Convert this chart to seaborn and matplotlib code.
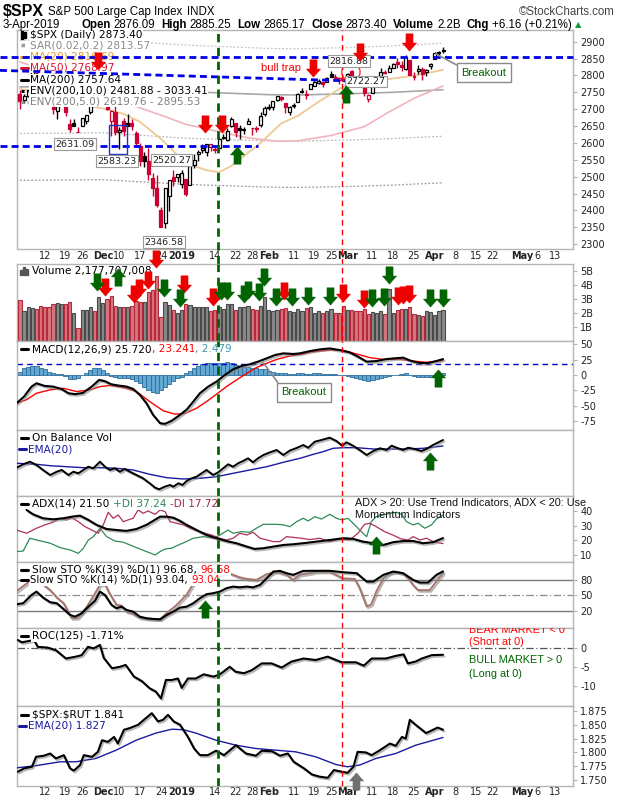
import numpy as np
import pandas as pd
import matplotlib
matplotlib.use("Agg")
import matplotlib.pyplot as plt
import seaborn as sns
from matplotlib.path import Path
from matplotlib.patches import Rectangle, Ellipse
import matplotlib.patheffects as pe

sns.set_theme(style="white")
plt.rcParams["font.family"] = ["DejaVu Sans"]

# ------------------------------------------------------------------ data
start_date = "2018-11-02"
end_date = "2019-05-20"
holidays = ["2018-11-22", "2018-12-05", "2018-12-25", "2019-01-01",
            "2019-01-21", "2019-02-18", "2019-04-19"]
prev_close_start = 2740.37

opens = [2745.45, 2726.37, 2738.40, 2774.13, 2806.38, 2794.10, 2773.93, 2730.05, 2737.90, 2693.52,
         2718.54, 2730.74, 2654.60, 2657.74, 2633.36, 2649.97, 2663.75, 2691.45, 2736.97, 2737.76,
         2790.50, 2782.43, 2663.51, 2691.26, 2630.86, 2664.44, 2658.23, 2658.70, 2629.68, 2590.75,
         2559.90, 2547.05, 2496.77, 2465.38, 2400.56, 2363.12, 2442.50, 2498.77, 2498.94, 2476.96,
         2491.92, 2474.33, 2535.61, 2568.11, 2580.00, 2573.51, 2588.11, 2580.31, 2585.10, 2614.75,
         2609.28, 2651.27, 2657.88, 2643.48, 2638.84, 2657.44, 2644.97, 2644.89, 2653.62, 2685.49,
         2702.32, 2706.49, 2728.34, 2735.05, 2717.53, 2692.36, 2712.40, 2722.61, 2750.30, 2743.50,
         2760.24, 2770.00, 2779.05, 2780.67, 2780.67, 2804.35, 2792.36, 2787.50, 2788.11, 2798.22,
         2814.37, 2794.41, 2790.27, 2766.53, 2730.79, 2747.61, 2787.34, 2799.78, 2810.38, 2810.79,
         2822.61, 2840.76, 2831.34, 2819.72, 2844.52, 2796.01, 2812.66, 2819.72, 2809.40, 2828.27,
         2848.63, 2868.24, 2876.09]
highs = [2756.55, 2744.27, 2756.82, 2815.15, 2814.75, 2794.10, 2775.99, 2754.60, 2746.80, 2735.38,
         2746.75, 2733.16, 2669.44, 2670.73, 2647.55, 2674.35, 2682.53, 2744.00, 2753.75, 2760.88,
         2800.18, 2785.93, 2697.77, 2708.54, 2647.51, 2674.35, 2685.44, 2670.19, 2635.07, 2601.13,
         2573.99, 2585.29, 2509.63, 2504.41, 2410.34, 2467.76, 2489.10, 2520.27, 2509.24, 2519.49,
         2493.14, 2538.07, 2566.16, 2579.82, 2595.32, 2597.82, 2596.27, 2589.32, 2613.08, 2625.76,
         2645.06, 2675.47, 2657.88, 2653.19, 2647.20, 2672.38, 2644.97, 2650.93, 2690.44, 2708.95,
         2716.66, 2724.99, 2738.98, 2738.08, 2719.32, 2708.07, 2718.05, 2748.19, 2761.85, 2757.90,
         2775.66, 2787.33, 2789.88, 2781.58, 2794.20, 2813.49, 2803.12, 2795.76, 2793.73, 2808.02,
         2816.88, 2796.44, 2790.27, 2767.25, 2744.13, 2784.00, 2798.32, 2821.24, 2815.00, 2830.73,
         2835.41, 2852.42, 2843.54, 2860.31, 2846.16, 2809.79, 2829.87, 2825.56, 2819.71, 2836.03,
         2869.40, 2872.90, 2885.25]
lows = [2700.44, 2717.94, 2737.08, 2774.13, 2794.99, 2764.24, 2722.00, 2714.98, 2685.75, 2670.75,
        2712.16, 2681.09, 2631.52, 2649.82, 2631.09, 2649.97, 2655.89, 2684.38, 2722.94, 2732.76,
        2773.38, 2697.18, 2621.53, 2623.14, 2583.23, 2621.30, 2650.26, 2637.27, 2593.84, 2530.54,
        2528.71, 2488.96, 2441.53, 2408.55, 2351.10, 2346.58, 2397.94, 2472.89, 2482.82, 2467.47,
        2443.96, 2474.33, 2524.56, 2547.56, 2568.89, 2562.02, 2577.40, 2570.41, 2585.10, 2612.68,
        2606.36, 2647.58, 2617.27, 2612.86, 2627.01, 2657.33, 2624.06, 2631.05, 2648.34, 2678.65,
        2696.88, 2698.75, 2724.03, 2724.15, 2687.26, 2681.83, 2703.79, 2722.61, 2748.63, 2731.23,
        2760.24, 2767.29, 2774.06, 2764.55, 2779.11, 2794.99, 2789.47, 2775.13, 2782.51, 2787.38,
        2767.66, 2782.97, 2768.69, 2739.09, 2722.27, 2747.61, 2786.73, 2799.78, 2803.46, 2810.79,
        2821.99, 2823.27, 2812.43, 2817.38, 2800.47, 2785.02, 2803.99, 2787.72, 2798.77, 2819.23,
        2848.63, 2858.75, 2865.17]
closes = [2723.06, 2738.31, 2755.45, 2813.89, 2806.83, 2781.01, 2726.22, 2722.18, 2701.58, 2730.20,
          2736.27, 2690.73, 2641.89, 2649.93, 2632.56, 2673.45, 2682.17, 2743.79, 2737.80, 2760.17,
          2790.37, 2700.06, 2695.95, 2633.08, 2637.72, 2636.78, 2651.07, 2650.54, 2599.95, 2545.94,
          2546.16, 2506.96, 2467.42, 2416.62, 2351.10, 2467.70, 2488.83, 2485.74, 2506.85, 2510.03,
          2447.89, 2531.94, 2549.69, 2574.41, 2584.96, 2596.64, 2596.26, 2582.61, 2610.30, 2616.10,
          2635.96, 2670.71, 2632.90, 2638.70, 2642.33, 2664.76, 2643.85, 2640.00, 2681.05, 2704.10,
          2706.53, 2724.87, 2737.70, 2731.61, 2706.05, 2707.88, 2709.80, 2744.73, 2753.03, 2745.73,
          2775.60, 2779.76, 2784.70, 2774.88, 2792.67, 2796.11, 2793.90, 2792.38, 2784.49, 2803.69,
          2792.81, 2789.65, 2771.45, 2748.93, 2743.07, 2783.30, 2791.52, 2810.92, 2808.48, 2822.48,
          2832.94, 2832.57, 2824.23, 2854.88, 2800.71, 2798.36, 2818.46, 2805.37, 2815.44, 2834.40,
          2867.19, 2867.24, 2873.40]
volume_b = [2.9, 2.1, 2.4, 2.35, 2.3, 2.5, 2.45, 2.4, 2.65, 2.7,
            2.65, 2.6, 2.8, 2.0, 0.95, 2.2, 2.2, 2.4, 2.1, 3.1,
            2.7, 3.0, 3.2, 2.5, 2.45, 2.4, 2.4, 2.5, 2.85, 2.75,
            2.8, 3.5, 3.65, 4.6, 1.7, 2.75, 2.55, 2.2, 2.0, 2.2,
            2.6, 2.55, 2.45, 2.45, 2.4, 2.4, 2.15, 2.2, 2.4, 2.25,
            2.6, 2.6, 2.2, 2.4, 2.45, 2.5, 2.3, 2.2, 2.5, 3.1,
            2.2, 2.1, 2.2, 2.3, 2.35, 2.1, 2.05, 2.25, 2.1, 2.35,
            2.45, 2.0, 2.1, 2.0, 2.1, 2.25, 2.0, 2.0, 2.5, 2.2,
            2.2, 2.15, 2.1, 2.3, 1.9, 2.05, 2.0, 2.1, 1.95, 3.7,
            2.0, 2.2, 2.25, 2.25, 2.4, 1.9, 1.85, 1.75, 2.1, 2.05,
            1.85, 2.1, 2.18]

# overlays on price (day index)
ma20_day = [0, 5, 10, 15, 20, 25, 29, 34, 40, 45, 48, 51, 58, 63, 67, 72, 78, 84, 90, 96, 102]
ma20_val = [2760, 2748, 2732, 2712, 2702, 2686, 2662, 2612, 2540, 2519, 2513, 2532, 2600, 2658,
            2680, 2722, 2767, 2781, 2791, 2801, 2816.69]
ma50_day = [0, 10, 20, 28, 35, 40, 47, 55, 62, 67, 75, 83, 89, 95, 102]
ma50_val = [2840, 2800, 2762, 2708, 2678, 2655, 2636, 2615, 2605, 2606, 2622, 2648, 2692, 2732, 2768.97]
ma200_day = [0, 20, 40, 60, 67, 80, 90, 102]
ma200_val = [2766, 2768, 2752, 2743, 2742, 2746, 2750, 2757.64]
env5_hi = [2904, 2906, 2890, 2880, 2879, 2883, 2888, 2895.53]
env5_lo = [2628, 2630, 2614, 2606, 2605, 2609, 2613, 2619.76]
env10_lo = [2489, 2491, 2477, 2469, 2468, 2471, 2475, 2481.88]

macd_day = [-0.8, 1, 2.8, 4, 6, 8, 10, 11.7, 13.3, 15.2, 17.3, 19.1, 20.5, 22, 23.7, 25.7, 27.3, 28.9,
            30.5, 32.1, 33.8, 35, 36.6, 38.6, 40.2, 41.8, 43.4, 45.4, 47.4, 49.4, 51.4, 53.4, 55.4,
            57.4, 59.5, 61.5, 63.5, 65.9, 67.5, 69.9, 72.3, 74.7, 77.1, 79.5, 81.5, 83.6, 86, 88.4,
            90.4, 92.4, 94.4, 96.4, 98.4, 100.4, 102]
macd_val = [-45.6, -35, -18.8, -13.4, -17.7, -18.8, -22.5, -29.5, -31, -29, -18.8, -8, -10, -15, -17,
            -18.8, -22.5, -32, -45.6, -64.5, -78, -79, -74, -64.5, -56, -43, -29.5, -18.8, -10.7, 0,
            9.2, 14.5, 17.3, 21.6, 27, 32.3, 35, 34, 35, 38.7, 41.4, 43, 40.3, 36.6, 29.7, 21.6, 22.6,
            25.8, 27, 28, 22.6, 19.4, 19.4, 22.6, 25.72]
signal_day = [-0.8, 1.6, 4, 7.3, 10.5, 13.7, 16.9, 19.3, 21.7, 24.9, 28.1, 31.3, 34.6, 37.4, 39.8,
              42.6, 45, 47.4, 49.8, 52.2, 54.7, 57, 59.5, 61.9, 65, 68.3, 69.9, 74.7, 78, 81.2,
              84.4, 87.6, 91.6, 94.8, 98, 102]
signal_val = [-45.6, -40, -29.5, -24, -21.5, -26.8, -24, -18.8, -17, -20.3, -26.8, -43, -58, -63.4,
              -62.3, -53.7, -43, -31, -18.8, -8, 2.7, 12, 18.9, 25.3, 30.6, 34, 37, 40.3, 39.7, 33.9,
              28, 25.3, 25.3, 22.6, 20.5, 23.24]
macd_hist = [5.4, 10.8, 13.4, 15, 15, 11.8, 9.1, 5.4, 2.7, 1, 1, -1, -6.5, -7, -4.3, 0, 3.8, 7.5,
             10.8, 11.8, 8, 2.7, -1, -3.8, -4.3, -4.3, -5.4, -6.5, -9.7, -13.4, -18.8, -24.2, -26.9,
             -29.6, -24.2, -18.8, -15, -9.7, -5.4, -2.7, 2.7, 6.5, 10.8, 15, 17.2, 18.8, 18.8, 18.8,
             18.8, 19.9, 20.4, 18.8, 16.1, 15, 12.9, 12.9, 11.8, 10.8, 9.7, 9.1, 7, 4.3, 2.7, 2.7,
             2.7, 2.2, 2.2, 2.7, 2.7, 2.2, 2.2, 2.7, 2.7, 2.2, 2, 1.6, 1, 0.5, -0.5, -1.5, -2.7, -4.3,
             -6.5, -8.6, -9.7, -8.6, -6.5, -4.3, -2.7, -1.6, -0.5, 0.5, 1.6, 2.7, 0.5, -1.6, -2.7,
             -3.2, -3.8, -2.7, -0.5, 1.6, 2.48]
macd_ref_level = 18.4

obv_day = [-0.8, 0.8, 2.4, 4, 5.6, 7.3, 8.9, 10.1, 11.7, 12.9, 14.1, 15.3, 16.5, 17.7, 19.3, 20.5,
           21.7, 22.9, 24.1, 25.3, 26.5, 28.1, 29.7, 31.3, 32.6, 33.6, 34.9, 36.2, 37, 38.2, 39.2,
           40.2, 41.4, 42.6, 43.8, 45, 46.6, 47.8, 49, 50.2, 51.4, 52.6, 53.8, 55, 56.2, 57.4,
           58.7, 60.3, 61.9, 63.5, 65.1, 66.7, 68.3, 69.5, 71.1, 72.7, 74.7, 76.3, 77.7, 78.7,
           80.3, 81.9, 83.6, 85.2, 86.8, 88.4, 89.6, 90.8, 92.4, 93.6, 95.2, 96.8, 98, 99.6, 102]
obv_val = [28.3, 31.7, 34.3, 31, 26, 21, 24.3, 26, 21, 24.3, 22.7, 26, 29.3, 27.7, 34.3, 29.3,
           26, 27.7, 24.3, 27, 24.3, 21, 17.7, 12.7, 8.3, 6.7, 9.3, 11, 9.3, 12.7, 11,
           15, 17.7, 19.3, 22.7, 26, 21, 23.7, 27.7, 31.7, 29.3, 32.7, 35, 37.7, 33.7, 37.7,
           41, 43.7, 46, 41, 45.5, 48, 51, 48.3, 54.3, 56, 58.3, 55, 50.3, 53.7,
           50.3, 46, 41, 45, 47.7, 46, 50.3, 48.3, 46, 48.3, 47, 45, 47, 51, 56]
obv_ema_day = [-0.8, 4, 7.3, 11.3, 15.3, 19.3, 23.3, 27.3, 31.3, 35.4, 39.4, 43.4, 47.4, 51.4, 55.4,
               59.5, 63.5, 67.5, 71, 73.1, 75.5, 77.9, 81.2, 85.2, 89.2, 93.2, 97.2, 102]
obv_ema_val = [32.7, 31.7, 30.3, 29.3, 28.3, 28.3, 27.7, 26, 21.7, 18.3, 17, 17.7, 19.3, 22.7, 26,
               29.3, 33.7, 37.7, 42, 44.3, 47.7, 48.3, 48.3, 47, 47, 47, 47.7, 50]

adx_day = [1.6, 3.2, 5.6, 8, 10.5, 12.5, 14.5, 16.5, 18.5, 20.9, 23.3, 25.7, 28.1, 30.5, 32.1, 33.8,
           35.4, 37, 38.6, 40.2, 42.6, 45, 47.4, 49.8, 52.2, 54.7, 56.6, 58.7, 61.1, 63.5, 65.9,
           68.3, 71.5, 74.7, 77.9, 80.3, 82.7, 85.2, 87.6, 90, 92.4, 94.8, 97.2, 99.6, 102]
adx_val = [40.7, 37.7, 35, 34.3, 35, 36.1, 36.8, 33.9, 30.5, 27.7, 27, 26.4, 27.7, 30.5, 33.2, 36.1,
           36.1, 35.4, 33.2, 30.5, 27, 23.6, 21.4, 19.5, 18, 15.7, 14.1, 14.6, 15.7, 16.8, 17.3,
           18, 19.1, 20.2, 21.4, 21, 19.1, 18, 16.8, 18.7, 19.5, 19.5, 18, 18.7, 21.5]
pdi_day = [-0.8, 0.8, 2.4, 4, 7.3, 9.7, 12.1, 14.1, 15.3, 16.5, 17.7, 19.3, 20.9, 22.9, 24.9, 26.9,
           28.9, 30.9, 32.6, 33.8, 35, 36.6, 38.2, 39.8, 41.8, 44.2, 46.6, 48.2, 50.2, 51.4, 53.4,
           55.4, 57, 58.7, 60.3, 61.9, 63.5, 65.1, 66.7, 68.3, 69.5, 71.1, 72.7, 74.7, 76.3, 77.7,
           79.1, 80.7, 82.3, 83.6, 84.7, 85.9, 87.6, 89.2, 90.8, 92, 93.2, 94.8, 96, 97.6, 99.2,
           100.4, 102]
pdi_val = [12.3, 12.7, 21.4, 20.2, 18, 15, 13.4, 11.1, 14.6, 20.2, 22.5, 28.2, 22.5, 19.5, 18.7, 16.4,
           14.1, 11.9, 10, 12.3, 14.1, 14.6, 16.8, 18.7, 21.4, 22.5, 21.4, 23.6, 27, 24.8, 25.9,
           25.5, 28.2, 30.9, 30.9, 30.9, 30.5, 29.3, 32.7, 35, 33.2, 36.1, 34.5, 37.7, 35, 33.9,
           35, 30.5, 25.9, 22.5, 32.7, 36.1, 37.3, 38.4, 39.1, 37.7, 32.7, 30.5, 31.6, 28.2, 30.5,
           34.5, 37.24]
mdi_day = [-0.8, 1.6, 4, 6, 8, 9.7, 11.3, 12.5, 14.1, 15.7, 17.3, 18.9, 20.1, 21.3, 22.5, 23.7, 24.9,
           26.1, 27.3, 28.5, 29.7, 30.9, 32.6, 33.8, 35, 36.2, 37.8, 39.4, 41, 42.6, 44.6, 46.2,
           48.2, 49.8, 51.4, 53, 54.7, 56.2, 57.9, 59.5, 61.1, 62.7, 64.3, 65.9, 67.5, 69.9, 72.3,
           74.7, 77.1, 79.5, 81.5, 83.1, 84.3, 85.9, 87.9, 89.9, 91.9, 93.6, 94.8, 96.4, 98, 99.6, 102]
mdi_val = [27, 24.8, 28.2, 30.5, 32.3, 35, 33.9, 35.4, 32.7, 29.3, 27, 24.8, 30.5, 39.1, 35, 37.3, 32.7,
           33.9, 35, 40.7, 38.4, 40, 37.7, 40.7, 39.5, 32.7, 31.6, 30.5, 28.2, 26.4, 24.8, 23.6,
           21.4, 20.2, 21.4, 24.8, 23.6, 25.5, 21.4, 20.2, 19.1, 19.1, 22.5, 22, 21.5, 20.5, 21.4,
           19.1, 20.9, 20.2, 24.8, 30.9, 31.6, 29.3, 25.9, 23.6, 20.9, 20.2, 22.5, 20.2, 21.4, 19.1, 17.72]

sto39_day = [-0.8, 0.8, 2.8, 4, 5.6, 7.3, 8.9, 10.5, 12.1, 13.3, 14.9, 16.5, 18.1, 19.3, 20.5, 22.1,
             23.3, 24.5, 25.7, 27.3, 28.9, 30.5, 32.1, 33.8, 35.4, 37, 38.6, 40.2, 41.8, 43.4, 45,
             46.6, 48.2, 49.8, 51.4, 53, 54.7, 56.2, 57.9, 59.5, 61.1, 62.7, 64.3, 65.9, 68.3, 71.5,
             74.7, 77.9, 81.2, 83.6, 85.2, 87.6, 90, 92.4, 94.8, 96.4, 98.4, 100.4, 102]
sto39_val = [32.4, 34.4, 50.6, 57.1, 45.4, 36.4, 34.4, 23.2, 11.5, 8.2, 14.8, 27.7, 38.9, 57.1, 50.6,
             31.1, 24.6, 27.7, 21.3, 18, 8.2, 5, 3.7, 3, 11.5, 18, 25.8, 27.7, 34.4, 44.2, 52, 54,
             57.1, 63.8, 66.9, 65.5, 66.9, 65.5, 70.2, 83.3, 96.3, 97.6, 93.1, 89.8, 97.6, 97.8,
             97.8, 95, 93.1, 76.7, 76.7, 89.8, 96.3, 93.1, 80, 74.8, 74.8, 89.8, 96.68]
sto14_day = [-0.8, 0.8, 2.5, 4, 5.5, 7.3, 9, 10.5, 12.5, 14, 16.1, 18, 19.3, 20.5, 21.5, 23.3, 24.5,
             25.7, 27, 28.9, 31, 33.8, 35.4, 37.8, 40.2, 42.6, 44.5, 46, 48, 50, 51.4, 53, 54.7, 57,
             59.5, 61.9, 64.3, 65.9, 67.5, 69.9, 71.5, 74.7, 77.9, 80.7, 81.9, 82.7, 83.6, 84.7,
             85.9, 87.6, 89.2, 90.8, 92.4, 93.6, 94.8, 96, 98.8, 100.4, 102]
sto14_val = [58, 68, 78, 82, 72, 60, 45, 35, 5, 6, 27, 52, 70, 72, 55, 31, 30, 18, 15, 6, 4, 3, 15,
             31, 51, 83, 90, 88, 92, 95, 90, 85, 82, 80, 91, 96, 90, 80, 90, 93, 96, 96, 83, 82, 64,
             47, 28, 32, 57, 83, 93, 96, 92, 83, 70, 60, 60, 77, 93.04]

roc_day = [-0.5, 0.5, 3.4, 4.3, 6.7, 8.7, 11.1, 13.5, 14.9, 16.4, 17.8, 19.3, 20.2, 22.2, 24.1, 25.5,
           27.5, 29.4, 31.3, 32.8, 34, 35.2, 36.6, 38.1, 39, 40.5, 42.4, 44.3, 46.7, 48.2, 50.6, 52,
           54, 55.9, 58.3, 60.7, 63.1, 65.5, 68.4, 71.3, 74.2, 77.6, 81, 82.9, 84.8, 88.2, 90.6,
           92.5, 93.5, 95.4, 96.9, 99.3, 102]
roc_val = [2.2, 1.6, 2.2, 0.4, 0.2, -0.5, -2.7, -2.2, -1.8, 0.4, 0, 0.9, -2.5, -5.3, -4.9, -4.4,
           -7.5, -8.7, -10.6, -11.5, -13.3, -8.4, -8.4, -8, -10.5, -8, -8, -6.9, -7.5, -6.9, -4.9,
           -6.2, -6.6, -5.8, -4, -4, -5.1, -3.5, -2.7, -3.1, -2.2, -3.7, -3.7, -4.6, -2.7, -2.7, -2,
           -1.6, -4, -3.5, -2.7, -1.8, -1.71]

ratio_day = [-0.5, 1, 2.9, 3.9, 5.8, 7.3, 8.7, 10.6, 12.1, 13, 14.5, 15.4, 17.4, 18.8, 19.8, 21.2,
             22.7, 23.6, 25.1, 26.5, 28.5, 29.9, 31.8, 33.3, 34.5, 35.7, 37.1, 38.6, 40.5, 42,
             43.4, 45.3, 47.3, 49.2, 52.1, 54.5, 56.9, 58.3, 60.8, 62.7, 64.6, 66, 68.5, 70.4,
             72.3, 74.2, 75.7, 77.6, 79, 80.4, 81.4, 83.4, 84.8, 86.8, 89.2, 90.6, 92.1, 93, 94,
             95.4, 97.9, 98.8, 100.7, 102]
ratio_val = [1.765, 1.771, 1.774, 1.792, 1.794, 1.798, 1.789, 1.795, 1.771, 1.767, 1.777, 1.795,
             1.792, 1.801, 1.822, 1.819, 1.828, 1.816, 1.841, 1.844, 1.850, 1.859, 1.871, 1.856,
             1.859, 1.868, 1.856, 1.850, 1.828, 1.807, 1.795, 1.795, 1.803, 1.795, 1.813, 1.798,
             1.794, 1.803, 1.802, 1.794, 1.798, 1.783, 1.771, 1.760, 1.756, 1.754, 1.768, 1.765,
             1.763, 1.774, 1.801, 1.800, 1.795, 1.804, 1.816, 1.812, 1.828, 1.825, 1.859, 1.850,
             1.835, 1.838, 1.845, 1.841]
ratio_ema_day = [-0.8, 3.9, 9.7, 13.5, 18.3, 23.2, 28, 32.8, 36.6, 39.5, 42.4, 47.3, 52.1, 56.9,
                 61.7, 66.5, 71.3, 76.2, 79, 81.9, 85.8, 90.6, 95.4, 102]
ratio_ema_val = [1.772, 1.776, 1.783, 1.783, 1.789, 1.804, 1.822, 1.835, 1.842, 1.841, 1.835,
                 1.822, 1.813, 1.807, 1.804, 1.801, 1.792, 1.778, 1.774, 1.777, 1.789, 1.798,
                 1.813, 1.827]

tick_dates = ["2018-11-12", "2018-11-19", "2018-11-26", "2018-12-03", "2018-12-10", "2018-12-17",
              "2018-12-24", "2019-01-02", "2019-01-14", "2019-01-22", "2019-01-28", "2019-02-01",
              "2019-02-11", "2019-02-19", "2019-02-25", "2019-03-01", "2019-03-11", "2019-03-18",
              "2019-03-25", "2019-04-01", "2019-04-08", "2019-04-15", "2019-04-22", "2019-05-01",
              "2019-05-06", "2019-05-13"]
tick_labels = ["12", "19", "26", "Dec", "10", "17", "24", "2019", "14", "22", "28", "Feb",
               "11", "19", "25", "Mar", "11", "18", "25", "Apr", "8", "15", "22", "May", "6", "13"]

# ------------------------------------------------------------------ calendar
days = pd.bdate_range(start_date, end_date)
days = days[~days.isin(pd.to_datetime(holidays))]
pos = {d: i for i, d in enumerate(days)}
tick_pos = [pos[pd.Timestamp(d)] for d in tick_dates]

o, h, l, c = (np.array(v, dtype=float) for v in (opens, highs, lows, closes))
x = np.arange(len(c))
prev = np.r_[prev_close_start, c[:-1]]
down_day = c < prev

# ------------------------------------------------------------------ figure
W, H = 620, 800
fig = plt.figure(figsize=(W / 100, H / 100), dpi=100)
fig.patch.set_facecolor("white")
LPX, RPX = 16.7, 573.3
XL = (-0.77, 133.4)
FRAME = "#b4b4b4"
RED = "#cc0033"
GREEN = "#006400"


def mkax(top, bot):
    ax = fig.add_axes([LPX / W, 1 - bot / H, (RPX - LPX) / W, (bot - top) / H])
    ax.set_facecolor("white")
    ax.set_xlim(*XL)
    for s in ax.spines.values():
        s.set_color(FRAME)
        s.set_linewidth(1)
    ax.yaxis.tick_right()
    ax.tick_params(axis="y", labelsize=7, length=3, width=0.8, color=FRAME, pad=2, labelcolor="#222222")
    ax.tick_params(axis="x", length=0, labelbottom=False)
    ax.set_xticks(tick_pos)
    ax.grid(False)
    return ax


ax_p = mkax(30, 248.5)
ax_v = mkax(264, 341)
ax_m = mkax(341, 430)
ax_o = mkax(430, 496)
ax_a = mkax(496, 562)
ax_s = mkax(562, 628)
ax_r = mkax(628, 706)
ax_q = mkax(706, 785.7)


def line(ax, xs, ys, color, lw=1.0, ls="-", shadow=False, z=3):
    sns.lineplot(x=xs, y=ys, ax=ax, color=color, linewidth=lw, linestyle=ls,
                 estimator=None, sort=False, legend=False, zorder=z)
    ln = ax.lines[-1]
    if shadow:
        ln.set_path_effects([pe.SimpleLineShadow(offset=(1, -1.2), shadow_color="#888888", alpha=0.6),
                             pe.Normal()])
    return ln


# x labels
for ax, pad in ((ax_p, 1.5), (ax_q, 0.8)):
    ax.tick_params(axis="x", labelbottom=True, labelsize=7, pad=pad, labelcolor="#222222")
    ax.set_xticklabels(tick_labels)
    for t, lab in zip(ax.get_xticklabels(), tick_labels):
        if not lab.isdigit() or lab == "2019":
            t.set_fontweight("bold")
        if lab == "6":
            t.set_horizontalalignment("left")

# ------------------------------------------------------------------ price panel
ax_p.set_ylim(2287, 2934.7)
ax_p.set_yticks(np.arange(2300, 2901, 50))
ax_p.set_yticklabels([str(v) for v in range(2300, 2901, 50)])

line(ax_p, ma200_day, env10_lo, "#9a9a9a", lw=0.9, ls=(0, (1.5, 1.5)), z=2)
line(ax_p, ma200_day, env5_lo, "#b8b8b8", lw=0.9, ls=(0, (1.5, 1.5)), z=2)
line(ax_p, ma200_day, env5_hi, "#c4c4c4", lw=0.9, ls=(0, (1.5, 1.5)), z=2)
line(ax_p, ma200_day, ma200_val, "#a8a8a8", lw=1.2, z=2)
line(ax_p, ma50_day, ma50_val, "#f2b4bb", lw=1.2, z=2)
line(ax_p, ma20_day, ma20_val, "#edc995", lw=1.3, z=2)

candle_col = np.where(down_day, RED, "black")
hollow = c > o
ax_p.vlines(x, l, h, colors=candle_col, lw=1.0, zorder=4)
body_lo = np.minimum(o, c)
body_h = np.maximum(np.abs(c - o), 1.2)
ax_p.bar(x[hollow], body_h[hollow], bottom=body_lo[hollow], width=0.72,
         facecolor="white", edgecolor=candle_col[hollow], linewidth=0.9, zorder=5)
ax_p.bar(x[~hollow], body_h[~hollow], bottom=body_lo[~hollow], width=0.72,
         facecolor=candle_col[~hollow], edgecolor=candle_col[~hollow], linewidth=0.9, zorder=5)

# blue trend lines (drawn as annotations)
BLUE = "#0000e6"
ax_p.plot([-4.8, 133.4], [2855.5, 2855.5], color=BLUE, lw=2, ls=(0, (2.5, 1.5)), clip_on=False, zorder=7)
ax_p.plot([-4.8, 88.7], [2815, 2780.5], color=BLUE, lw=2, ls=(0, (2.5, 1.5)), clip_on=False, zorder=7)
ax_p.plot([-4.8, 57.4], [2591.6, 2591.6], color=BLUE, lw=2, ls=(0, (2.5, 1.5)), clip_on=False, zorder=7)

ax_p.add_patch(Rectangle((21.5, 2566.6), 4.3, 86.4, fill=False, ec="#2233cc", lw=1.0, zorder=7))
ax_p.add_patch(Ellipse((79.8, 2810), 4.4, 53, fill=False, ec="#ff3333", lw=1.0, zorder=7))

lab_kw = dict(fontsize=6.8, ha="center", va="center", color="#222222", zorder=8,
              bbox=dict(boxstyle="square,pad=0.12", fc="white", ec="#9a9a9a", lw=0.8))
for (xx, yy, s) in [(13.3, 2596.6, "2631.09"), (23.4, 2546.2, "2583.23"), (36.6, 2549.2, "2520.27"),
                    (34.7, 2306, "2346.58"), (83.4, 2782.6, "2722.27"), (79.3, 2842.8, "2816.88")]:
    ax_p.text(xx, yy, s, **lab_kw)

ax_p.text(62.9, 2822, "bull trap", color="#ee0000", fontsize=8, family="Liberation Sans",
          ha="center", va="center", zorder=8)

ax_p.annotate("Breakout", xy=(100.3, 2864), xytext=(106.4, 2808.7), color=GREEN, fontsize=8,
              family="Liberation Sans", ha="left", va="center", zorder=8,
              bbox=dict(boxstyle="square,pad=0.4", fc="white", ec="#8a8a8a", lw=1.0),
              arrowprops=dict(arrowstyle="-", color="#8a8a8a", lw=1.2, shrinkA=0, shrinkB=0,
                              relpos=(0, 1)))

# ------------------------------------------------------------------ volume
ax_v.set_ylim(0, 5.48)
ax_v.set_yticks([1, 2, 3, 4, 5])
ax_v.set_yticklabels(["1B", "2B", "3B", "4B", "5B"])
vfill = np.where(down_day, "#d6767f", "#8a8a8a")
vedge = np.where(down_day, "#b52a3c", "#4a4a4a")
ax_v.bar(x, volume_b, width=0.78, color=vfill, edgecolor=vedge, linewidth=0.8, zorder=3)

# ------------------------------------------------------------------ MACD
ax_m.set_ylim(-89, 55)
ax_m.set_yticks([-75, -50, -25, 0, 25, 50])
ax_m.set_yticklabels(["-75", "-50", "-25", "0", "25", "50"])
ax_m.bar(x, macd_hist, width=1.0, color="#62a6d2", edgecolor="#2c6e9c", linewidth=0.6, zorder=2)
ax_m.axhline(macd_ref_level, color="#0000cc", lw=1.0, ls=(0, (4, 3)), zorder=2)
line(ax_m, signal_day, signal_val, "#ff0000", lw=1.0, z=3)
line(ax_m, macd_day, macd_val, "black", lw=1.5, shadow=True, z=4)
ax_m.annotate("Breakout", xy=(58.6, 20.5), xytext=(63.0, -27.9), color=GREEN, fontsize=8,
              family="Liberation Sans", ha="left", va="center", zorder=8,
              bbox=dict(boxstyle="square,pad=0.4", fc="white", ec="#8a8a8a", lw=1.0),
              arrowprops=dict(arrowstyle="-", color="#8a8a8a", lw=1.2, shrinkA=0, shrinkB=0,
                              relpos=(0, 1)))

# ------------------------------------------------------------------ OBV
ax_o.set_ylim(0, 66)
ax_o.set_yticks([])
line(ax_o, obv_ema_day, obv_ema_val, "#1a1aa0", lw=1.0, z=3)
line(ax_o, obv_day, obv_val, "black", lw=1.4, shadow=True, z=4)

# ------------------------------------------------------------------ ADX
ax_a.set_ylim(5.2, 50.2)
ax_a.set_yticks([10, 20, 30, 40])
ax_a.set_yticklabels(["10", "20", "30", "40"])
line(ax_a, pdi_day, pdi_val, "#2e8b57", lw=0.9, z=3)
line(ax_a, mdi_day, mdi_val, "#b0305a", lw=0.9, z=3)
line(ax_a, adx_day, adx_val, "black", lw=1.5, shadow=True, z=4)
ax_a.text(80.7, 45.5, "ADX > 20: Use Trend Indicators, ADX < 20: Use", fontsize=7.8,
          family="Liberation Sans", ha="left", va="center", color="#111111", zorder=8, clip_on=False)
ax_a.text(80.7, 37.4, "Momentum Indicators", fontsize=7.8, family="Liberation Sans",
          ha="left", va="center", color="#111111", zorder=8)

# ------------------------------------------------------------------ Slow STO
ax_s.set_ylim(-14, 115)
ax_s.set_yticks([20, 50, 80])
ax_s.set_yticklabels(["20", "50", "80"])
ax_s.axhline(80, color="#7a7a7a", lw=1.0, zorder=1)
ax_s.axhline(20, color="#7a7a7a", lw=1.0, zorder=1)
ax_s.axhline(50, color="#8a8a8a", lw=0.9, ls=(0, (6, 2, 1, 2)), zorder=1)
line(ax_s, sto14_day, sto14_val, "#a5766c", lw=1.4, shadow=True, z=3)
line(ax_s, sto39_day, sto39_val, "black", lw=1.5, shadow=True, z=4)

# ------------------------------------------------------------------ ROC
ax_r.set_ylim(-15.3, 5.4)
ax_r.set_yticks([-10, -5, 0])
ax_r.set_yticklabels(["-10", "-5", "0"])
ax_r.axhline(0, color="#555555", lw=0.9, ls=(0, (6, 2, 1, 2)), zorder=1)
line(ax_r, roc_day, roc_val, "black", lw=1.5, shadow=True, z=4)
for yy, s, col in [(4.9, "BEAR MARKET < 0", "#ff0000"), (1.6, "(Short at 0)", "#ff0000"),
                   (-3.0, "BULL MARKET > 0", GREEN), (-6.7, "(Long at 0)", GREEN)]:
    ax_r.text(108.3, yy, s, color=col, fontsize=7.8, family="Liberation Sans",
              ha="left", va="center", clip_on=True)

# ------------------------------------------------------------------ SPX:RUT
ax_q.set_ylim(1.7397, 1.884)
qt = [1.750, 1.775, 1.800, 1.825, 1.850, 1.875]
ax_q.set_yticks(qt)
ax_q.set_yticklabels([f"{v:.3f}" for v in qt])
line(ax_q, ratio_ema_day, ratio_ema_val, "#1a1aa0", lw=1.0, z=3)
line(ax_q, ratio_day, ratio_val, "black", lw=1.5, shadow=True, z=4)

# ------------------------------------------------------------------ vertical marker lines
gap = (264 - 248.5) / (248.5 - 30)
ax_p.axvline(47.7, ymin=-gap, ymax=1, color=GREEN, lw=2, ls=(0, (3, 2)), clip_on=False, zorder=7)
ax_p.axvline(77.7, ymin=-gap, ymax=1, color="#ff0000", lw=1, ls=(0, (4, 3)), clip_on=False, zorder=7)
for ax in (ax_v, ax_m, ax_o, ax_a, ax_s, ax_r, ax_q):
    ax.axvline(47.7, color=GREEN, lw=2, ls=(0, (3, 2)), zorder=7)
    ax.axvline(77.7, color="#ff0000", lw=1, ls=(0, (4, 3)), zorder=7)

# ------------------------------------------------------------------ arrow annotations
DOWN = Path([(-0.41, 1), (0.41, 1), (0.41, -0.06), (0.82, -0.06), (0, -1),
             (-0.82, -0.06), (-0.41, -0.06), (-0.41, 1)])
UP = Path([(vx, -vy) for vx, vy in DOWN.vertices])
ARED, AGRN = "#ee0000", "#006400"


def arrows(ax, pts, marker, color):
    for xx, yy in pts:
        ax.plot([xx], [yy], ls="none", marker=marker, ms=12.5, mfc=color, mec=color, mew=0.3,
                clip_on=False, zorder=9)


arrows(ax_p, [(18.8, 2843), (44.6, 2656), (48.7, 2656), (70.6, 2822), (81.9, 2869.5), (93.8, 2899)],
       DOWN, ARED)
arrows(ax_p, [(52.3, 2564), (78.6, 2745)], UP, AGRN)
arrows(ax_v, [(20.5, 3.84), (27.5, 3.34), (28.7, 3.76), (30.9, 4.34), (32.8, 5.84), (39.5, 4.05),
              (46.5, 3.12), (63.6, 3.55), (77.9, 3.41), (82.9, 2.98), (91.1, 3.19), (92.3, 3.26),
              (93.8, 3.34)], DOWN, ARED)
arrows(ax_v, [(18.6, 4.19), (34.7, 3.76), (38.6, 3.05), (48.5, 3.55), (49.9, 3.55), (54, 3.34),
              (55, 3.62), (57.6, 3.48), (58.8, 4.55), (61.7, 3.12), (65.6, 3.12), (69.4, 3.19),
              (74.7, 3.19), (84.8, 3.05), (87.7, 3.12), (88.9, 4.69), (98.8, 3.05), (101.9, 3.05)],
       DOWN, AGRN)
arrows(ax_v, [(23.6, 4.55)], UP, AGRN)
arrows(ax_m, [(100.7, -5)], UP, AGRN)
arrows(ax_o, [(98.8, 35)], UP, AGRN)
arrows(ax_a, [(85.8, 16.8)], UP, AGRN)
arrows(ax_s, [(44.6, 23)], UP, AGRN)
arrows(ax_q, [(81, 1.748)], UP, "#707070")

# ------------------------------------------------------------------ legends / header text
R = fig.canvas.get_renderer()
BOX = dict(boxstyle="square,pad=0.06", fc="white", ec="none")


def seq(px, py, parts, size=7.6, family="DejaVu Sans", ax=None, box=True):
    xx = px
    for s, col, wt, gap_px in parts:
        kw = dict(color=col, fontsize=size, fontweight=wt, family=family, ha="left", va="center")
        if ax is None:
            t = fig.text(xx / W, 1 - py / H, s, zorder=20, **kw)
        else:
            t = ax.text(xx / W, 1 - py / H, s, transform=fig.transFigure, zorder=6,
                        bbox=BOX if box else None, **kw)
        xx += t.get_window_extent(renderer=R).width + gap_px
    return xx


def swatch(ax, px, py, color, style="-", lw=2.2, length=7):
    ax.add_artist(plt.Line2D([px / W, (px + length) / W], [1 - py / H, 1 - py / H],
                             color=color, lw=lw, ls=style, transform=fig.transFigure, zorder=6.5))


# header
xe = seq(3, 11, [("$SPX", "black", "bold", 4)], size=11.5, family="Liberation Sans")
xe = seq(xe, 12, [("S&P 500 Large Cap Index", "black", "normal", 5), ("INDX", "black", "normal", 0)],
         size=8.3, family="Liberation Sans")
fig.text(615 / W, 1 - 12 / H, "\u00a9StockCharts.com", fontsize=8.3, family="Liberation Sans",
         color="#444444", ha="right", va="center")
xe = seq(3, 25, [("3-Apr-2019", "black", "normal", 21),
                 ("Open", "black", "bold", 3), ("2876.09", "black", "normal", 6),
                 ("High", "black", "bold", 3), ("2885.25", "black", "normal", 6),
                 ("Low", "black", "bold", 3), ("2865.17", "black", "normal", 6),
                 ("Close", "black", "bold", 3), ("2873.40", "black", "normal", 6),
                 ("Volume", "black", "bold", 3), ("2.2B", "black", "normal", 6),
                 ("Chg", "black", "bold", 3), ("+6.16 (+0.21%)", "black", "normal", 3)],
         size=8.3, family="Liberation Sans")
fig.text(xe / W, 1 - 25 / H, "\u25b2", fontsize=6, color="#1a9a3a", ha="left", va="center")

# price legend (opaque line backgrounds like the reference)
seq(30, 34.5, [("$SPX (Daily) 2873.40", "black", "normal", 0)], ax=ax_p)
ax_p.add_artist(Rectangle((21 / W, 1 - 39 / H), 2 / W, 8 / H, color="black",
                          transform=fig.transFigure, zorder=6.5))
ax_p.add_artist(Rectangle((24.5 / W, 1 - 38 / H), 2 / W, 6 / H, color="black",
                          transform=fig.transFigure, zorder=6.5))
seq(30, 45, [("SAR(0.02,0.2) 2813.57", "#8c8c8c", "normal", 0)], ax=ax_p)
swatch(ax_p, 21, 45, "#9a9a9a", style=(0, (1, 1)), lw=2.5, length=6)
seq(30, 56.5, [("MA(20) 2816.69", "#e39a2e", "normal", 0)], ax=ax_p)
swatch(ax_p, 21, 56.5, "#e39a2e")
seq(30, 67.5, [("MA(50) 2768.97", "#dd1133", "normal", 0)], ax=ax_p)
swatch(ax_p, 21, 67.5, "#dd1133")
seq(30, 79.5, [("MA(200) 2757.64", "black", "normal", 0)], ax=ax_p)
swatch(ax_p, 21, 79.5, "black")
seq(30, 90.5, [("ENV(200,10.0) 2481.88 - 3033.41", "black", "normal", 0)], ax=ax_p)
swatch(ax_p, 21, 90.5, "black", style=(0, (1, 1)), lw=2.2)
seq(30, 101.5, [("ENV(200,5.0) 2619.76 - 2895.53", "#808080", "normal", 0)], ax=ax_p)
swatch(ax_p, 21, 101.5, "#909090", style=(0, (1, 1)), lw=2.2)

# volume legend
seq(32, 270.7, [("Volume 2,177,707,008", "black", "normal", 0)], ax=ax_v, box=False)
for i, hh in enumerate((5, 8, 6)):
    ax_v.add_artist(Rectangle(((20 + 3 * i) / W, 1 - 275 / H), 2 / W, hh / H, color="#555555",
                              transform=fig.transFigure, zorder=6.5))
# MACD legend
swatch(ax_m, 21, 349, "black")
seq(32, 349, [("MACD(12,26,9) 25.720", "black", "normal", 0), (", 23.241", "#ff0000", "normal", 0),
              (", 2.479", "#3a9ab0", "normal", 0)], ax=ax_m)
# OBV legend
swatch(ax_o, 21, 438, "black")
seq(32, 438, [("On Balance Vol", "black", "normal", 0)], ax=ax_o)
swatch(ax_o, 19, 449, "#1a1aa0")
seq(28, 449, [("EMA(20)", "#1a1aa0", "normal", 0)], ax=ax_o)
# ADX legend
swatch(ax_a, 21, 504, "black")
seq(32, 504, [("ADX(14) 21.50 ", "black", "normal", 0), ("+DI 37.24 ", "#2e8b57", "normal", 0),
              ("-DI 17.72", "#a0284a", "normal", 0)], ax=ax_a)
# STO legend
swatch(ax_s, 21, 570, "black")
seq(32, 570, [("Slow STO %K(39) %D(1) 96.68, ", "black", "normal", 0),
              ("96.68", "#ff0000", "normal", 0)], ax=ax_s)
swatch(ax_s, 21, 580, "black")
seq(30, 580, [("Slow STO %K(14) %D(1) 93.04, ", "black", "normal", 0),
              ("93.04", "#ff0000", "normal", 0)], size=7.3, ax=ax_s)
# ROC legend
swatch(ax_r, 21, 636, "black")
seq(32, 636, [("ROC(125) -1.71%", "black", "normal", 0)], ax=ax_r)
# ratio legend
swatch(ax_q, 21, 714.5, "black")
seq(32, 714.5, [("\\$SPX:\\$RUT 1.841", "black", "normal", 0)], ax=ax_q)
swatch(ax_q, 19, 725.5, "#1a1aa0")
seq(28, 725.5, [("EMA(20) 1.827", "#1a1aa0", "normal", 0)], ax=ax_q)

fig.savefig("out.png", dpi=100, facecolor="white")
